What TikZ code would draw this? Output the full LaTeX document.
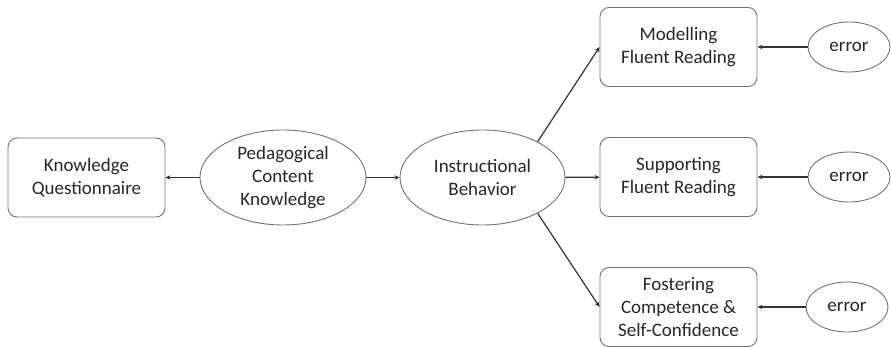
\documentclass[tikz,border=0pt]{standalone}
\usepackage{fontspec}
\setmainfont{Carlito}
\usetikzlibrary{shapes.geometric,arrows.meta}
\begin{document}
\begin{tikzpicture}[x=1pt,y=-1pt,
  every node/.style={font=\fontsize{19}{23}\selectfont, align=center, text=black!85},
  box/.style={draw=black!55, line width=0.9pt, rounded corners=9pt, minimum width=157pt, minimum height=79pt, inner sep=0pt},
  oval/.style={draw=black!55, line width=0.9pt, ellipse, inner sep=0pt},
  conn/.style={draw=black!80, line width=1.2pt, -{Stealth[length=5pt,width=4.5pt]}}]
\useasboundingbox (0,0) rectangle (891,347);
\node[box] (kq) at (86.5,177.5) {Knowledge\\Questionnaire};
\node[oval, minimum width=166pt, minimum height=95pt] (pck) at (283,177.5) {Pedagogical\\Content\\Knowledge};
\node[oval, minimum width=165pt, minimum height=95pt] (ib) at (482.5,177.5) {Instructional\\Behavior};
\node[box] (mfr) at (678.5,47) {Modelling\\Fluent Reading};
\node[box] (sfr) at (678.5,177) {Supporting\\Fluent Reading};
\node[box] (fcs) at (678.5,307) {Fostering\\Competence \&\\Self-Confidence};
\node[oval, minimum width=82pt, minimum height=50pt] (e1) at (849,47) {error};
\node[oval, minimum width=82pt, minimum height=50pt] (e2) at (849,177) {error};
\node[oval, minimum width=82pt, minimum height=50pt] (e3) at (847,307) {error};
\draw[conn] (pck) -- (kq);
\draw[conn] (pck) -- (ib);
\draw[conn] (ib) -- (sfr);
\draw[conn] (ib.33) -- (mfr.west);
\draw[conn] (ib.-33) -- (fcs.west);
\draw[conn] (e1) -- (mfr);
\draw[conn] (e2) -- (sfr);
\draw[conn] (e3) -- (fcs);
\end{tikzpicture}
\end{document}
